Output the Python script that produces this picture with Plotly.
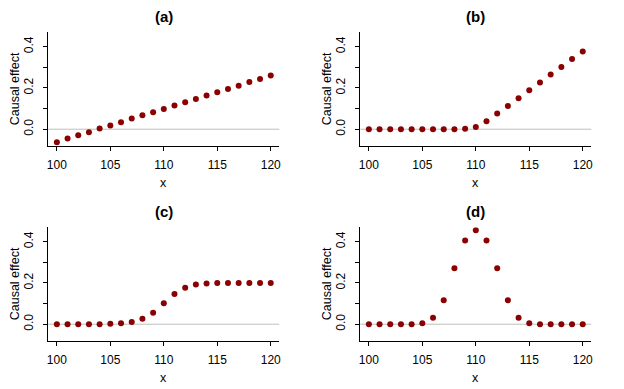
import plotly.graph_objects as go

x_vals = list(range(100, 121))
effect_a = [-0.063, -0.045, -0.029, -0.015, 0.003, 0.018, 0.034, 0.052, 0.068, 0.082, 0.098,
            0.115, 0.131, 0.147, 0.163, 0.179, 0.195, 0.211, 0.229, 0.244, 0.261]
effect_b = [0.0, 0.0, 0.0, 0.0, 0.0, 0.0, 0.0, 0.0, 0.0, 0.002, 0.011,
            0.039, 0.076, 0.113, 0.150, 0.189, 0.227, 0.265, 0.302, 0.340, 0.377]
effect_c = [0.0, 0.0, 0.0, 0.0, 0.0, 0.002, 0.005, 0.011, 0.026, 0.055, 0.102,
            0.147, 0.177, 0.192, 0.198, 0.2, 0.2, 0.2, 0.2, 0.2, 0.2]
effect_d = [0.0, 0.0, 0.0, 0.0, 0.0, 0.005, 0.031, 0.116, 0.271, 0.406, 0.456,
            0.406, 0.271, 0.116, 0.031, 0.005, 0.0, 0.0, 0.0, 0.0, 0.0]
panel_titles = ["(a)", "(b)", "(c)", "(d)"]
x_title = "x"
y_title = "Causal effect"
x_ticks = [100, 105, 110, 115, 120]
y_ticks = [0.0, 0.1, 0.2, 0.3, 0.4]
y_ticktext = ["0.0", "", "0.2", "", "0.4"]

# page has an 8px body margin; figure fills the rest of the 624x389 window
OFF = 8
W, H = 624 - OFF, 389 - OFF
font_family = "Liberation Sans, Arial, sans-serif"
marker_color = "#8B0000"

# panel plot areas in window pixels: (left, right, top, bottom)
panels = [
    (48.3, 279.3, 32.3, 145.7),
    (360.3, 591.3, 32.3, 145.7),
    (48.3, 279.3, 227.3, 340.7),
    (360.3, 591.3, 227.3, 340.7),
]
series = [effect_a, effect_b, effect_c, effect_d]


def px(v):
    return (v - OFF) / W


def py(v):
    return 1 - (v - OFF) / H


fig = go.Figure()
annotations = []
shapes = []
for i, ((l, r, t, b), ys, title) in enumerate(zip(panels, series, panel_titles)):
    n = "" if i == 0 else str(i + 1)
    xa = "x" + n
    ya = "y" + n
    fig.add_trace(go.Scatter(x=x_vals, y=ys, mode="markers",
                             marker=dict(color=marker_color, size=6),
                             xaxis=xa, yaxis=ya, showlegend=False))
    common = dict(showline=True, linecolor="black", linewidth=1, ticks="outside",
                  ticklen=4, tickcolor="black", tickwidth=1, showgrid=False,
                  zeroline=False, automargin=False,
                  tickfont=dict(family=font_family, size=12, color="black"))
    fig.layout["xaxis" + n] = dict(
        domain=[px(l), px(r)], anchor=ya, range=[99.2, 120.8],
        tickvals=x_ticks, ticklabelstandoff=4, **common)
    fig.layout["yaxis" + n] = dict(
        domain=[py(b), py(t)], anchor=xa, range=[-0.08, 0.47],
        tickvals=y_ticks, ticktext=y_ticktext, tickangle=-90, ticklabelstandoff=6,
        **common)
    shapes.append(dict(type="line", xref=xa + " domain", yref=ya, x0=0, x1=1, y0=0, y1=0,
                       line=dict(color="#bebebe", width=1), layer="below"))
    cx = px((l + r) / 2)
    annotations.append(dict(text="<b>" + title + "</b>", xref="paper", yref="paper",
                            x=cx, y=py(t - 16), showarrow=False,
                            xanchor="center", yanchor="middle",
                            font=dict(family=font_family, size=15, color="black")))
    annotations.append(dict(text=x_title, xref="paper", yref="paper",
                            x=cx, y=py(b + 37), showarrow=False,
                            xanchor="center", yanchor="middle",
                            font=dict(family=font_family, size=12.5, color="black")))
    annotations.append(dict(text=y_title, xref="paper", yref="paper", textangle=-90,
                            x=px(l - 33), y=py((t + b) / 2), showarrow=False,
                            xanchor="center", yanchor="middle",
                            font=dict(family=font_family, size=12.5, color="black")))

fig.update_layout(width=W, height=H, margin=dict(l=0, r=0, t=0, b=0),
                  plot_bgcolor="white", paper_bgcolor="white",
                  annotations=annotations, shapes=shapes)
fig.write_html("out.html")
